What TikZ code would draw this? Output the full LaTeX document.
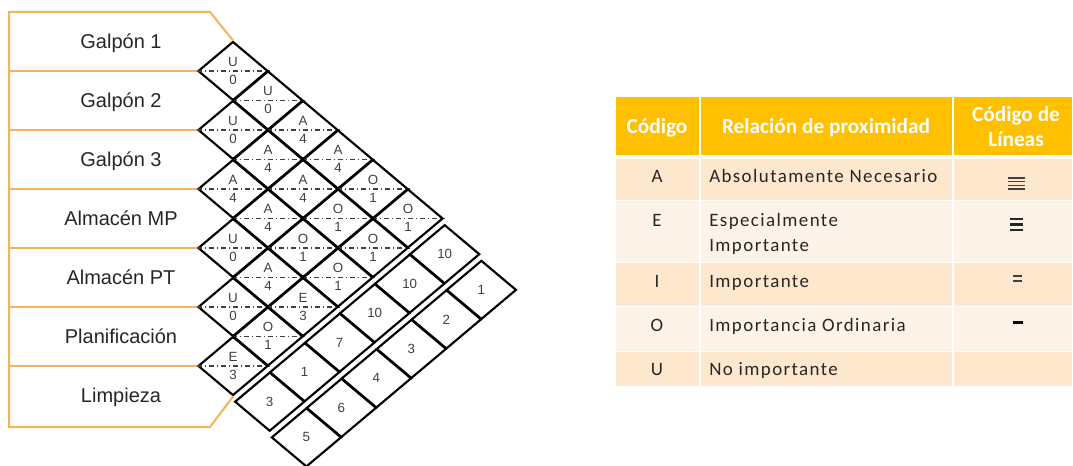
\documentclass[tikz,border=0pt]{standalone}
\usepackage{fontspec}
\setmainfont{Liberation Sans}
\newfontfamily\tablefont{Carlito}
\newfontfamily\tablewide[LetterSpace=7.5]{Carlito}
\usetikzlibrary{shapes.geometric}
\definecolor{frameorange}{RGB}{240,180,90}
\definecolor{headgold}{RGB}{255,192,0}
\definecolor{rowdark}{RGB}{253,232,206}
\definecolor{rowlight}{RGB}{254,243,232}
\definecolor{codegray}{RGB}{64,64,64}
\definecolor{inkgray}{RGB}{38,38,38}
\begin{document}
\begin{tikzpicture}[x=0.75pt,y=-0.75pt,
  frame/.style={draw=frameorange,line width=1.5pt},
  pair/.style={draw=black,shape=diamond,line width=1.6pt,minimum width=52.5pt,
    minimum height=44.25pt,inner sep=0pt,text=codegray,font=\fontsize{10}{12}\selectfont},
  midline/.style={draw=codegray,line width=0.9pt,dash pattern=on 4pt off 2pt on 1pt off 2pt},
  code/.style={anchor=base,inner sep=0pt,text=codegray,font=\fontsize{10}{12}\selectfont},
  dept/.style={anchor=base,inner sep=0pt,text=inkgray,font=\fontsize{15}{18}\selectfont},
  head/.style={anchor=base,inner sep=0pt,text=white,font=\tablefont\bfseries\fontsize{16}{19.5}\selectfont},
  entry/.style={anchor=base,inner sep=0pt,text=inkgray,font=\tablewide\fontsize{14.2}{18.75}\selectfont},
  cellbox/.style={draw=white,line width=1.2pt},
  linemark/.style={draw=codegray}]
  \useasboundingbox (0,0) rectangle (1073,466);

  % relationship chart
  \foreach \i/\j/\rel/\val in {1/2/U/0,1/3/U/0,2/3/U/0,1/4/A/4,2/4/A/4,1/5/A/4,3/4/A/4,
      2/5/A/4,1/6/O/1,3/5/A/4,2/6/O/1,1/7/O/1,4/5/U/0,3/6/O/1,2/7/O/1,4/6/A/4,
      3/7/O/1,5/6/U/0,4/7/E/3,5/7/O/1,6/7/E/3}{
    \node[pair] (p\i\j) at ({198+35*(\j-\i)},{12+29.5*(\i+\j-1)}) {};
    \draw[midline] (p\i\j.west) -- (p\i\j.east);
    \node[code] (r\i\j) at ([yshift=3.4pt]p\i\j.center) {\rel};
    \node[code] (v\i\j) at ([yshift=-10pt]p\i\j.center) {\val};
  }
  \foreach \k/\score in {1/10,2/10,3/10,4/7,5/1,6/3}
    \node[pair] (s\k) at ({198+35*(8-\k)+1.7},{12+29.5*(\k+7)+6.2}) {\score};
  \foreach \k/\rank in {1/1,2/2,3/3,4/4,5/6,6/5}
    \node[pair] (o\k) at ({198+35*(9-\k)+3.4},{12+29.5*(\k+8)+12.4}) {\rank};

  \draw[frame] (p12.north) -- (210,12) -- (9,12) -- (9,427) -- (210,427) -- (p67.south);
  \foreach \r/\s in {1/2,2/3,3/4,4/5,5/6,6/7}
    \draw[frame] (9,{12+59*\r}) -- (p\r\s.west);
  \foreach \r/\name in {1/Galpón 1,2/Galpón 2,3/Galpón 3,4/Almacén MP,5/Almacén PT,
      6/Planificación,7/Limpieza}
    \node[dept] (dept\r) at (121,{12+59*(\r-0.5)+7}) {\name};

  % legend table
  \path[cellbox,fill=headgold] (615,96) rectangle (700,156) (700,96) rectangle (953,156)
    (953,96) rectangle (1073,156);
  \foreach \top/\bot/\tone in {158/200.5/rowdark,200.5/262.5/rowlight,262.5/306.5/rowdark,
      306.5/351.5/rowlight,351.5/386.5/rowdark}
    \path[cellbox,fill=\tone] (615,\top) rectangle (700,\bot) (700,\top) rectangle (953,\bot)
      (953,\top) rectangle (1073,\bot);
  \node[head] (hcode) at (657,134) {Código};
  \node[head] (hrel) at (826,134) {Relación de proximidad};
  \node[head] (hline1) at (1016,122) {Código de};
  \node[head] (hline2) at (1016,147) {Líneas};
  \foreach \y/\c/\t [count=\n] in {183/A/Absolutamente Necesario,227/E/Especialmente,
      287/I/Importante,331/O/Importancia Ordinaria,375/U/No importante}{
    \node[entry] (c\n) at (657,\y) {\c};
    \node[entry,anchor=base west] (t\n) at (709,\y) {\t};
  }
  \node[entry,anchor=base west] (t2b) at (709,252) {Importante};
  \foreach \y in {178,181.7,185.4,189}
    \draw[linemark,line width=0.9pt] (1008,\y) -- (1025,\y);
  \foreach \y in {219,224.5,230}
    \draw[linemark,draw=inkgray,line width=1.8pt] (1010,\y) -- (1023,\y);
  \foreach \y in {276,281}
    \draw[linemark,line width=1.1pt] (1013,\y) -- (1022,\y);
  \draw[linemark,draw=black,line width=2.2pt] (1013,322.5) -- (1023,322.5);
\end{tikzpicture}
\end{document}
